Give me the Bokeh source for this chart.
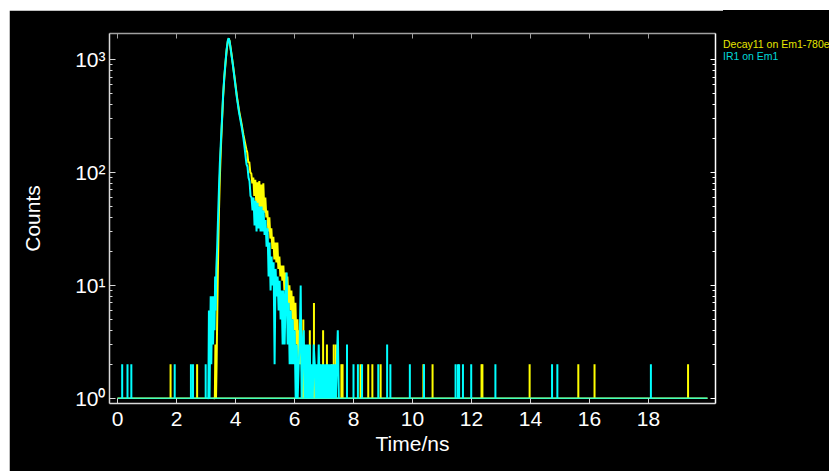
from bokeh.plotting import figure
from bokeh.layouts import row
from bokeh.models import LogAxis, LinearAxis, FixedTicker, Range1d, Div
from bokeh.embed import file_html
from bokeh.resources import INLINE

# ---------------- data ----------------
CHANNEL_NS = 0.034  # channel width used for the noisy decay parts

# Decay11 on Em1-780en (yellow)
DECAY_MAIN_T = [3.26, 3.30, 3.32, 3.34, 3.36, 3.38, 3.40, 3.42, 3.44, 3.47, 3.50, 3.53, 3.58,
                3.62, 3.66, 3.70, 3.74, 3.77, 3.80, 3.85, 3.91, 3.98, 4.05, 4.12, 4.20, 4.27,
                4.33, 4.37]
DECAY_MAIN_C = [1, 1, 3, 1, 2, 5, 12, 25, 45, 90, 150, 235, 464,
                680, 915, 1200, 1450, 1530, 1460, 1190, 915, 660, 470, 355, 275, 215,
                180, 160]
DECAY_NOISY_START = 4.40
DECAY_NOISY_C = [150, 122, 124, 100, 98, 80, 90, 62, 86, 52, 82, 50, 84, 48, 78, 46, 80, 44,
                 60, 40, 46, 30, 40, 26, 32, 21, 27, 17, 24, 16, 24, 14, 18, 12, 15, 11, 15,
                 9, 13, 8, 12, 7, 10, 6, 9, 5, 8, 4, 7, 3, 5, 2, 4, 2, 3, 1]
DECAY_SPIKE_T = [1.80, 2.70, 6.30, 6.35, 6.52, 6.66, 6.85, 6.97, 7.10, 7.26, 7.33, 7.40, 7.59,
                 7.63, 8.24, 8.50, 8.64, 8.92, 10.37, 10.68, 12.34, 12.37, 13.97, 15.62,
                 16.17, 19.34]
DECAY_SPIKE_C = [2, 2, 5, 2, 4, 7, 2, 4, 3, 2, 3, 3, 2,
                 2, 2, 2, 2, 2, 2, 2, 2, 2, 2, 2,
                 2, 2]

# IR1 on Em1 (cyan)
IR_MAIN_T = [3.06, 3.08, 3.10, 3.12, 3.14, 3.16, 3.18, 3.20, 3.22, 3.24, 3.27, 3.29, 3.31,
             3.33, 3.35, 3.38, 3.41, 3.44, 3.47, 3.50, 3.53, 3.58, 3.62, 3.66, 3.70, 3.74,
             3.77, 3.80, 3.85, 3.91, 3.98, 4.05, 4.12, 4.20, 4.27, 4.31]
IR_MAIN_C = [1, 1, 6, 1, 3, 8, 2, 5, 8, 3, 8, 4, 12,
             6, 14, 22, 40, 72, 120, 175, 250, 480, 700, 940, 1230, 1470,
             1545, 1450, 1170, 900, 640, 455, 340, 262, 200, 165]
IR_NOISY_START = 4.34
IR_NOISY_C = [140, 118, 112, 90, 84, 62, 60, 46, 60, 34, 56, 30, 54, 32, 50, 30, 50, 30, 46,
              28, 38, 22, 32, 12, 24, 9, 18, 10, 16, 2, 14, 8, 12, 6, 11, 5, 9, 3, 9, 3, 8,
              13, 3, 7, 2, 6, 2, 5, 2, 4, 1, 3, 1, 2, 3, 10, 1, 3, 4, 1, 3, 1, 3, 1, 3, 1,
              2, 1, 3, 2, 1, 2, 1, 3, 1, 2, 1, 2, 1, 2, 1, 2, 1, 2, 1, 2, 1, 2, 1, 2, 1, 2,
              4, 1]
IR_SPIKE_T = [0.16, 0.34, 0.47, 1.94, 2.49, 2.56, 2.99, 7.78, 8.00, 8.15, 8.29, 8.84, 9.14,
              9.25, 9.91, 10.39, 11.46, 11.54, 11.58, 11.71, 11.99, 12.81, 14.73, 14.91, 18.08]
IR_SPIKE_C = [2, 2, 2, 2, 2, 2, 2, 3, 2, 2, 2, 2, 3,
              2, 2, 2, 2, 2, 2, 2, 2, 2, 2, 2, 2]

BASELINE_T = [0.0, 20.0]
BASELINE_C = [1, 1]

X_TICKS = [0, 2, 4, 6, 8, 10, 12, 14, 16, 18]
Y_TICKS = [1, 10, 100, 1000]
Y_LABELS = ["10\u2070", "10\u00b9", "10\u00b2", "10\u00b3"]
Y_MINOR = [m * d for d in (1, 10, 100, 1000) for m in range(2, 10)]

SERIES_NAMES = ["Decay11 on Em1-780en", "IR1 on Em1"]
SERIES_TEXT_COLORS = ["#e6e600", "#00d8d8"]
YELLOW = "#ffff00"
CYAN = "#00ffff"
FONT = "Liberation Sans"


def noisy_times(start, values):
    return [start + CHANNEL_NS * i for i in range(len(values))]


decay_t = DECAY_MAIN_T + noisy_times(DECAY_NOISY_START, DECAY_NOISY_C)
decay_c = DECAY_MAIN_C + DECAY_NOISY_C
ir_t = IR_MAIN_T + noisy_times(IR_NOISY_START, IR_NOISY_C)
ir_c = IR_MAIN_C + IR_NOISY_C

# ---------------- figure ----------------
W, H = 714, 461
p = figure(width=W, height=H,
           x_range=Range1d(-0.27, 20.27), y_range=Range1d(0.9, 1700),
           y_axis_type="log", output_backend="svg", toolbar_location=None,
           background_fill_color="black", border_fill_color="black",
           outline_line_color=None,
           min_border_left=100, min_border_right=8,
           min_border_top=23, min_border_bottom=68)
p.margin = 0
p.grid.visible = False

LW = 2
# yellow series
p.line(BASELINE_T, BASELINE_C, line_color=YELLOW, line_width=1.5)
p.segment(x0=DECAY_SPIKE_T, y0=[1] * len(DECAY_SPIKE_T), x1=DECAY_SPIKE_T, y1=DECAY_SPIKE_C,
          line_color=YELLOW, line_width=LW)
p.line(decay_t, decay_c, line_color=YELLOW, line_width=LW)
# cyan series
p.line(BASELINE_T, BASELINE_C, line_color=CYAN, line_width=1.5, line_alpha=0.75)
p.segment(x0=IR_SPIKE_T, y0=[1] * len(IR_SPIKE_T), x1=IR_SPIKE_T, y1=IR_SPIKE_C,
          line_color=CYAN, line_width=LW)
p.line(ir_t, ir_c, line_color=CYAN, line_width=LW)

# ---------------- axes ----------------
def style_axis(ax, color="#d8d8d8"):
    ax.axis_line_color = color
    ax.axis_line_width = 1.5
    ax.major_tick_line_color = color
    ax.minor_tick_line_color = color
    ax.major_tick_in = 5
    ax.major_tick_out = 0
    ax.minor_tick_in = 3
    ax.minor_tick_out = 0
    ax.major_label_text_color = "white"
    ax.major_label_text_font = FONT
    ax.major_label_text_font_size = "21px"
    ax.axis_label_text_color = "white"
    ax.axis_label_text_font = FONT
    ax.axis_label_text_font_size = "21px"
    ax.axis_label_text_font_style = "normal"


xa = p.xaxis[0]
xa.ticker = FixedTicker(ticks=X_TICKS)
style_axis(xa)
xa.axis_label = "Time/ns"
xa.major_label_standoff = 8
xa.axis_label_standoff = 3

ya = p.yaxis[0]
ya.ticker = FixedTicker(ticks=Y_TICKS, minor_ticks=Y_MINOR)
style_axis(ya)
ya.major_tick_in = 6
ya.major_label_overrides = dict(zip(Y_TICKS, Y_LABELS))
ya.axis_label = "Counts"
ya.major_label_standoff = 4
ya.axis_label_standoff = 28

# frame-only axes (top and right) without tick labels
top = LinearAxis(ticker=FixedTicker(ticks=X_TICKS))
style_axis(top, color="#a0a0a0")
top.major_label_text_font_size = "1px"
top.major_label_text_color = None
top.major_label_standoff = 0
p.add_layout(top, "above")

right = LogAxis(ticker=FixedTicker(ticks=Y_TICKS, minor_ticks=Y_MINOR))
style_axis(right, color="#ffffff")
right.major_label_text_font_size = "1px"
right.major_label_text_color = None
right.major_label_standoff = 0
p.add_layout(right, "right")

# ---------------- legend texts (right of the frame, on black) ----------------
legend_html = "".join(
    f'<div style="color:{c};">{n}</div>' for n, c in zip(SERIES_NAMES, SERIES_TEXT_COLORS)
)
div = Div(
    text=f'<div style="padding-top:28px;font-family:\'{FONT}\';font-size:10.5px;'
         f'line-height:12px;white-space:nowrap;">{legend_html}</div>',
    width=106, height=H, margin=0,
    styles={"background-color": "black", "overflow": "hidden"},
)

layout = row(p, div, margin=(10, 0, 0, 9), spacing=0)
open("out.html", "w").write(file_html(layout, INLINE))
